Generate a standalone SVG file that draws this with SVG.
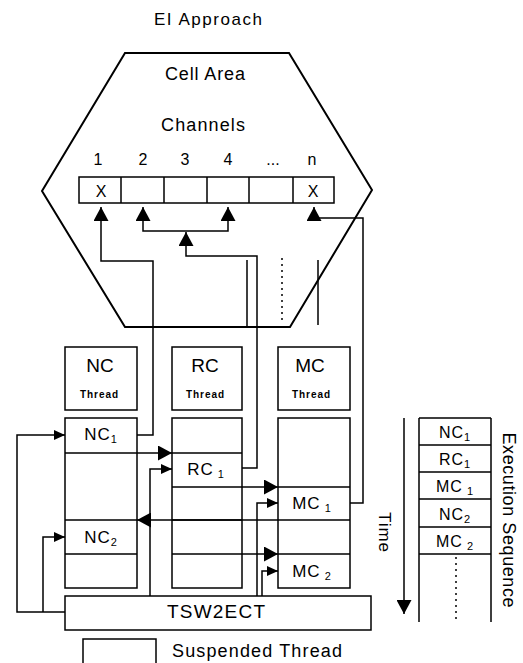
<svg xmlns="http://www.w3.org/2000/svg" width="523" height="663" viewBox="0 0 523 663">
<style>
text{font-family:"Liberation Sans",Arial,sans-serif;fill:#000}
.b{fill:#fff;stroke:#000;stroke-width:1.5}
.l{fill:none;stroke:#000;stroke-width:1.5}
.c{text-anchor:middle}
.t17{font-size:17px}
.t16{font-size:16px}
.th{font-size:10px;font-weight:bold}
.s{font-size:11px}
</style>
<defs>
<marker id="big" markerUnits="userSpaceOnUse" markerWidth="15" markerHeight="15" refX="14" refY="7.5" orient="auto"><path d="M0,0 L14,7.5 L0,15 z" fill="#000"/></marker>
<marker id="sm" markerUnits="userSpaceOnUse" markerWidth="12" markerHeight="11" refX="11" refY="5" orient="auto"><path d="M0,0 L11,5 L0,10 z" fill="#000"/></marker>
</defs>
<rect width="523" height="663" fill="#fff"/>
<text x="208" y="25" class="c" font-size="17" textLength="108" lengthAdjust="spacing">EI Approach</text>
<g id="cell-area">
<polygon points="125,53 289,53 372,190 290,327 125,327 42,191" fill="none" stroke="#000" stroke-width="2"/>
<text x="205" y="80" class="c" font-size="18" textLength="80" lengthAdjust="spacing">Cell Area</text>
<text x="203" y="131" class="c" font-size="18" textLength="84" lengthAdjust="spacing">Channels</text>
</g>
<g id="channels">
<rect x="79" y="177" width="255" height="26" class="b"/>
<path d="M121,177V203M164,177V203M207,177V203M249,177V203M293,177V203" class="l"/>
<g class="c" font-size="16">
<text x="98" y="165">1</text><text x="143" y="165">2</text><text x="185" y="165">3</text><text x="228" y="165">4</text><text x="273" y="165">...</text><text x="312" y="165">n</text>
<text x="101" y="197">X</text><text x="313" y="197">X</text>
</g>
</g>
<g id="nc-thread"><rect x="65" y="347" width="72" height="63" class="b"/><text x="100" y="372" class="c" font-size="19">NC</text><text x="99" y="398" class="c th" textLength="38" lengthAdjust="spacing">Thread</text></g>
<g id="rc-thread"><rect x="172" y="347" width="70" height="63" class="b"/><text x="205" y="372" class="c" font-size="19">RC</text><text x="205" y="398" class="c th" textLength="38" lengthAdjust="spacing">Thread</text></g>
<g id="mc-thread"><rect x="278" y="347" width="72" height="63" class="b"/><text x="310" y="372" class="c" font-size="19">MC</text><text x="311" y="398" class="c th" textLength="38" lengthAdjust="spacing">Thread</text></g>
<g id="nc-column">
<rect x="65" y="418" width="72" height="170" class="b"/>
<path d="M65,453H137M65,520H137M65,554H137" class="l"/>
<text x="101" y="440" class="c t17" letter-spacing="1">NC<tspan class="s" dy="3">1</tspan></text>
<text x="101" y="543" class="c t17" letter-spacing="1">NC<tspan class="s" dy="3">2</tspan></text>
</g>
<g id="rc-column">
<rect x="172" y="418" width="70" height="170" class="b"/>
<path d="M172,453H242M172,487H242M172,520H242M172,554H242" class="l"/>
<text x="206" y="475" class="c t17" letter-spacing="1">RC<tspan class="s" dy="3"> 1</tspan></text>
</g>
<g id="mc-column">
<rect x="278" y="418" width="72" height="170" class="b"/>
<path d="M278,487H350M278,520H350M278,554H350" class="l"/>
<text x="312" y="509" class="c t17" letter-spacing="1">MC<tspan class="s" dy="3"> 1</tspan></text>
<text x="312" y="577" class="c t17" letter-spacing="1">MC<tspan class="s" dy="3"> 2</tspan></text>
</g>
<g id="tsw2ect"><rect x="65" y="596" width="306" height="34" class="b"/><text x="216" y="618" class="c" font-size="19" textLength="98" lengthAdjust="spacing">TSW2ECT</text></g>
<g id="legend"><rect x="83" y="639" width="73" height="40" class="b"/><text x="172" y="657" font-size="18" textLength="170" lengthAdjust="spacing">Suspended Thread</text></g>
<g id="execution-sequence">
<path d="M419,418V622M491,418V622M419,418H491M419,445H491M419,472H491M419,499H491M419,527H491M419,554H491" class="l"/>
<path d="M456,557V622" fill="none" stroke="#000" stroke-width="1.5" stroke-dasharray="2,4"/>
<g class="c t16" letter-spacing="1">
<text x="455" y="438">NC<tspan class="s" dy="3">1</tspan></text>
<text x="455" y="465">RC<tspan class="s" dy="3">1</tspan></text>
<text x="455" y="492">MC<tspan class="s" dy="3"> 1</tspan></text>
<text x="455" y="520">NC<tspan class="s" dy="3">2</tspan></text>
<text x="455" y="547">MC<tspan class="s" dy="3"> 2</tspan></text>
</g>
<text transform="translate(503,520) rotate(90)" class="c" font-size="18" textLength="175" lengthAdjust="spacing">Execution Sequence</text>
<text transform="translate(379,532) rotate(90)" class="c" font-size="17" textLength="40" lengthAdjust="spacing">Time</text>
</g>
<g id="connectors">
<path d="M137,435H153V261H101V207" class="l" marker-end="url(#big)"/>
<path d="M242,468H257V256H186V232" class="l" marker-end="url(#big)"/>
<path d="M186,231H143V207" class="l" marker-end="url(#big)"/>
<path d="M186,231H228V207" class="l" marker-end="url(#big)"/>
<path d="M350,503H363V218H314V207" class="l" marker-end="url(#big)"/>
<path d="M247,260V327M318,260V325" class="l"/>
<path d="M282,258V323" fill="none" stroke="#000" stroke-width="1.5" stroke-dasharray="2,4"/>
<path d="M137,453H172" class="l" marker-end="url(#big)"/>
<path d="M242,487H278" class="l" marker-end="url(#big)"/>
<path d="M278,520H137" class="l" marker-end="url(#big)"/>
<path d="M242,554H278" class="l" marker-end="url(#big)"/>
<path d="M150,596V469H172" class="l" marker-end="url(#sm)"/>
<path d="M257,596V503H278" class="l" marker-end="url(#sm)"/>
<path d="M262,596V571H278" class="l" marker-end="url(#sm)"/>
<path d="M65,612H17V435H65" class="l" marker-end="url(#sm)"/>
<path d="M43,612V537H65" class="l" marker-end="url(#sm)"/>
<path d="M404,418V614" class="l" marker-end="url(#big)"/>
</g>
</svg>
